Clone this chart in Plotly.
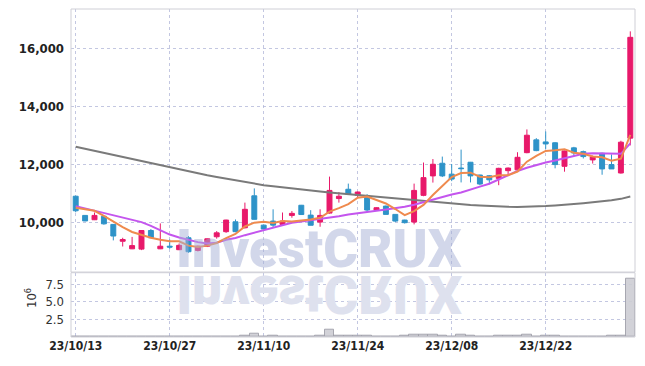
import base64
import plotly.graph_objects as go

dates = [
    "23/10/13", "23/10/16", "23/10/17", "23/10/18", "23/10/19", "23/10/20", "23/10/23", "23/10/24", "23/10/25", "23/10/26",
    "23/10/27", "23/10/30", "23/10/31", "23/11/01", "23/11/02", "23/11/03", "23/11/06", "23/11/07", "23/11/08", "23/11/09",
    "23/11/10", "23/11/13", "23/11/14", "23/11/15", "23/11/16", "23/11/17", "23/11/20", "23/11/21", "23/11/22", "23/11/23",
    "23/11/24", "23/11/27", "23/11/28", "23/11/29", "23/11/30", "23/12/01", "23/12/04", "23/12/05", "23/12/06", "23/12/07",
    "23/12/08", "23/12/11", "23/12/12", "23/12/13", "23/12/14", "23/12/15", "23/12/18", "23/12/19", "23/12/20", "23/12/21",
    "23/12/22", "23/12/26", "23/12/27", "23/12/28", "24/01/02", "24/01/03", "24/01/04", "24/01/05", "24/01/08", "24/01/09",
]

open_ = [10900, 10240, 10090, 10210, 9930, 9350, 9090, 9080, 9720, 9090,
         9180, 9060, 9470, 9035, 9180, 9505, 9680, 10020, 9815, 10915,
         9905, 10045, 9930, 10240, 10590, 10250, 10010, 10320, 10820, 11140,
         10930, 10905, 10425, 10560, 10275, 10080, 10010, 10930, 11600, 12035,
         11660, 11870, 12070, 11630, 11605, 11515, 11780, 11810, 12400, 12840,
         12770, 12740, 11930, 12565, 12435, 12150, 12380, 11990, 11700, 12900]
high = [10920, 10250, 10340, 10220, 9940, 9470, 9500, 9730, 9770, 9965,
        9410, 9275, 9528, 9200, 9440, 9700, 10090, 10100, 10680, 11170,
        9930, 10450, 10340, 10390, 10600, 10420, 10450, 11575, 11045, 11335,
        11060, 10970, 10520, 10580, 10280, 10090, 11335, 12060, 12180, 12265,
        12010, 12505, 12080, 11640, 11630, 11880, 11890, 12415, 13200, 12900,
        13130, 12760, 12470, 12600, 12470, 12300, 12400, 12340, 12810, 16575]
low = [10350, 10040, 10080, 9920, 9380, 9170, 9080, 9045, 9470, 9080,
       9090, 9045, 8955, 9000, 9150, 9440, 9640, 9660, 9790, 10100,
       9750, 9815, 9900, 10160, 10260, 9900, 9850, 10300, 10680, 10965,
       10850, 10355, 10400, 10275, 10010, 9960, 9930, 10900, 11370, 11560,
       11420, 11375, 11375, 11280, 11310, 11280, 11600, 11780, 12380, 12450,
       12530, 11860, 11745, 12280, 12200, 12025, 11640, 11840, 11680, 12650]
close = [10400, 10050, 10240, 9950, 9530, 9410, 9200, 9720, 9470, 9180,
         9150, 9210, 8990, 9180, 9435, 9640, 10080, 9680, 10450, 10105,
         9770, 9905, 10045, 10310, 10270, 9900, 10240, 11100, 10900, 10965,
         11045, 10425, 10505, 10275, 10045, 9990, 11100, 11540, 12000, 11600,
         11490, 11850, 11600, 11320, 11465, 11860, 11870, 12240, 13000, 12470,
         12700, 11990, 12460, 12390, 12265, 12250, 11840, 11840, 12760, 16370]

ma5 = [10500, 10450, 10400, 10220, 10020, 9840, 9670, 9560, 9470, 9400,
       9350, 9350, 9200, 9150, 9200, 9290, 9460, 9600, 9860, 9990,
       10020, 9980, 10050, 10030, 10060, 10100, 10160, 10370, 10490, 10630,
       10850, 10890, 10770, 10650, 10460, 10250, 10390, 10600, 10940, 11260,
       11560, 11700, 11710, 11570, 11550, 11620, 11620, 11750, 12090, 12290,
       12460, 12480, 12520, 12400, 12360, 12270, 12240, 12120, 12190, 13010]
ma20 = [10560, 10480, 10420, 10340, 10260, 10160, 10080, 10010, 9880, 9720,
        9580, 9480, 9400, 9320, 9270, 9300, 9400, 9460, 9560, 9650,
        9740, 9830, 9920, 9990, 10030, 10070, 10110, 10160, 10210, 10270,
        10320, 10360, 10400, 10440, 10480, 10540, 10610, 10700, 10790, 10880,
        10960, 11030, 11120, 11230, 11330, 11470, 11620, 11770, 11880, 11980,
        12060, 12130, 12210, 12300, 12360, 12380, 12380, 12360, 12360, 12720]
ma60 = [12600, 12530, 12455, 12380, 12305, 12230, 12160, 12090, 12020, 11955,
        11890, 11820, 11750, 11680, 11620, 11560, 11500, 11440, 11380, 11330,
        11280, 11240, 11200, 11160, 11120, 11090, 11060, 11030, 11000, 10980,
        10960, 10930, 10900, 10870, 10840, 10810, 10780, 10750, 10720, 10690,
        10660, 10630, 10600, 10580, 10560, 10545, 10535, 10530, 10535, 10545,
        10560, 10580, 10600, 10630, 10660, 10690, 10720, 10760, 10810, 10890]

volume = [12000, 9000, 8000, 15000, 20000, 10000, 9000, 14000, 11000, 18000,
          9000, 8000, 16000, 12000, 10000, 14000, 20000, 15000, 120000, 380000,
          60000, 110000, 50000, 40000, 30000, 60000, 120000, 930000, 110000, 90000,
          120000, 100000, 40000, 30000, 50000, 120000, 230000, 330000, 220000, 100000,
          60000, 330000, 110000, 40000, 50000, 80000, 110000, 200000, 210000, 60000,
          110000, 100000, 40000, 30000, 40000, 30000, 50000, 100000, 120000, 8350000]

price_ticks = [10000, 12000, 14000, 16000]
vol_ticks = [2500000, 5000000, 7500000]
vol_tick_text = ["2.5", "5.0", "7.5"]
date_ticks = [dates[i] for i in range(0, 60, 10)]

UP = "#e8196a"
DOWN = "#2e93c8"
GRID = "rgba(175,180,215,0.75)"
FONT = "DejaVu Sans Condensed, Roboto, sans-serif"

fig = go.Figure()
fig.add_trace(go.Candlestick(
    x=dates, open=open_, high=high, low=low, close=close,
    increasing=dict(line=dict(color=UP, width=1), fillcolor=UP),
    decreasing=dict(line=dict(color=DOWN, width=1), fillcolor=DOWN),
    whiskerwidth=0, showlegend=False, xaxis="x", yaxis="y",
))
fig.add_trace(go.Scatter(x=dates, y=ma60, mode="lines", line=dict(color="#7a7a7a", width=2),
                         showlegend=False, xaxis="x", yaxis="y"))
fig.add_trace(go.Scatter(x=dates, y=ma20, mode="lines", line=dict(color="#c455ee", width=2),
                         showlegend=False, xaxis="x", yaxis="y"))
fig.add_trace(go.Scatter(x=dates, y=ma5, mode="lines", line=dict(color="#ef8a4e", width=2),
                         showlegend=False, xaxis="x", yaxis="y"))
fig.add_trace(go.Bar(x=dates, y=volume, marker=dict(color="rgba(205,205,212,0.9)",
                                                     line=dict(color="rgba(160,160,170,0.9)", width=1)),
                     showlegend=False, xaxis="x", yaxis="y2"))

MAIN_BOTTOM = 0.198
VOL_TOP = 0.196
WM_X = 0.44

# reflected watermark (vertical flip)
svg = ('<svg xmlns="http://www.w3.org/2000/svg" width="330" height="62">'
       '<text x="165" y="-3" text-anchor="middle" transform="scale(1,-1)" '
       'font-family="Roboto, DejaVu Sans, sans-serif" font-weight="900" font-size="53" '
       'fill="rgb(222,225,238)">InvestCRUX</text></svg>')
svg_uri = "data:image/svg+xml;base64," + base64.b64encode(svg.encode()).decode()

# the page body adds an 8px offset; the figure is sized so the plot area lands in place
fig.update_layout(
    width=637, height=358,
    margin=dict(l=63, r=10, t=1, b=29, autoexpand=False),
    paper_bgcolor="white", plot_bgcolor="white",
    bargap=0, boxgap=0.25,
    xaxis=dict(type="category", anchor="y2", range=[-0.5, 59.5], rangeslider=dict(visible=False),
               tickvals=date_ticks, ticktext=date_ticks, showgrid=True, gridcolor=GRID,
               griddash="dot", gridwidth=1, ticks="", showline=False, zeroline=False,
               automargin=False,
               tickfont=dict(family=FONT, size=12, color="#222", weight="bold")),
    yaxis=dict(domain=[MAIN_BOTTOM, 1], range=[8290, 17345], tickvals=price_ticks,
               tickformat=",d", showgrid=True, gridcolor=GRID, griddash="dot", gridwidth=1,
               zeroline=False, showline=False, ticks="", ticklabelstandoff=6, automargin=False,
               tickfont=dict(family=FONT, size=13, color="#222", weight="bold")),
    yaxis2=dict(domain=[0, VOL_TOP], range=[-50000, 9200000], tickvals=vol_ticks,
                ticktext=vol_tick_text, showgrid=True, gridcolor=GRID, griddash="dot",
                gridwidth=1, zeroline=False, showline=False, ticks="", ticklabelstandoff=6,
                automargin=False,
                tickfont=dict(family=FONT, size=13, color="#333")),
    shapes=[
        dict(type="rect", xref="paper", yref="paper", x0=0, x1=1, y0=MAIN_BOTTOM, y1=1,
             line=dict(color="#cfcfd6", width=1), layer="above"),
        dict(type="rect", xref="paper", yref="paper", x0=0, x1=1, y0=0, y1=VOL_TOP,
             line=dict(color="#cfcfd6", width=1), layer="above"),
    ],
    images=[dict(source=svg_uri, xref="paper", yref="paper", x=WM_X, y=MAIN_BOTTOM - 0.003,
                 sizex=330 / 564, sizey=62 / 328, xanchor="center", yanchor="top",
                 sizing="stretch", layer="above", opacity=1)],
    annotations=[
        dict(text="InvestCRUX", xref="paper", yref="paper", x=WM_X,
             y=MAIN_BOTTOM - 0.03, xanchor="center", yanchor="bottom", showarrow=False,
             font=dict(family="Roboto, DejaVu Sans, sans-serif", size=53, weight=900,
                       color="rgba(165,176,214,0.5)")),
        dict(text="10<sup>6</sup>", xref="paper", yref="paper", x=-0.072, y=0.12,
             xanchor="center", yanchor="middle", textangle=-90, showarrow=False,
             font=dict(family=FONT, size=13, color="#333")),
    ],
)

fig.write_html("out.html")
